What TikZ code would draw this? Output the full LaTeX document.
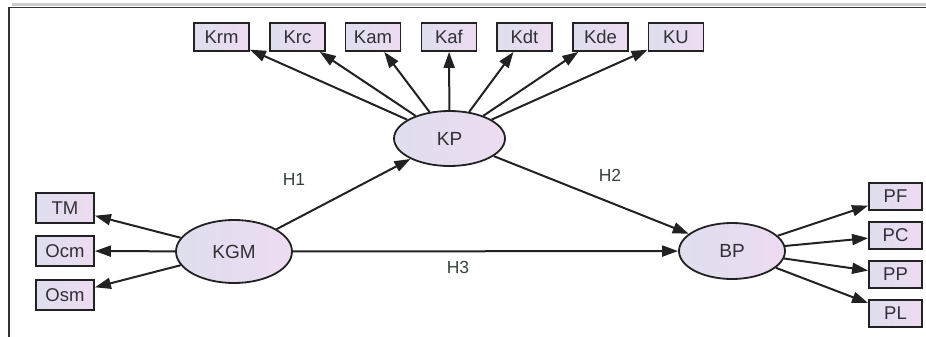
\documentclass[tikz,border=0pt]{standalone}
\usepackage{fontspec}
\setmainfont{Liberation Sans}
\usetikzlibrary{shapes.geometric,arrows.meta}
\definecolor{fillL}{HTML}{DEDFEE}
\definecolor{fillR}{HTML}{EEDBF1}
\definecolor{edge}{HTML}{222222}
\definecolor{txt}{HTML}{303036}
\definecolor{lbl}{HTML}{34443A}
\tikzset{
  obs/.style={draw=edge, line width=1.8pt, left color=fillL, right color=fillR,
    minimum width=55pt, minimum height=28pt, inner sep=0pt, text=txt,
    font=\fontsize{18.5}{18.5}\selectfont},
  lat/.style={draw=edge, line width=1.8pt, ellipse, left color=fillL, right color=fillR,
    inner sep=0pt, text=txt, font=\fontsize{19}{19}\selectfont},
  path/.style={draw=edge, line width=2pt, -{Triangle[length=16pt,width=11pt]}},
  hlab/.style={text=lbl, font=\fontsize{17.5}{17.5}\selectfont}
}
\begin{document}
\begin{tikzpicture}[x=1pt,y=-1pt]
\useasboundingbox (0,0) rectangle (926,337);
% frame
\draw[black!20, line width=3pt] (12,4.5) -- (926,4.5);
\draw[black!80, line width=1.8pt] (9,337) -- (9,7.5) -- (926,7.5);
% latent
\node[lat, minimum width=111pt, minimum height=55pt] (KP) at (449.5,138.5) {KP};
\node[lat, minimum width=116pt, minimum height=63pt] (KGM) at (234,251.5) {KGM};
\node[lat, minimum width=106pt, minimum height=56pt] (BP) at (732,251) {BP};
% top indicators
\node[obs] (Krm) at (221.5,37) {Krm};
\node[obs] (Krc) at (297.5,37) {Krc};
\node[obs] (Kam) at (373,37) {Kam};
\node[obs] (Kaf) at (449,37) {Kaf};
\node[obs] (Kdt) at (524.5,37) {Kdt};
\node[obs] (Kde) at (600.5,37) {Kde};
\node[obs] (KU) at (676,37) {KU};
% left indicators
\node[obs, minimum width=58pt, minimum height=30pt] (TM) at (65,208) {TM};
\node[obs, minimum width=58pt, minimum height=30pt] (Ocm) at (65,251) {Ocm};
\node[obs, minimum width=58pt, minimum height=30pt] (Osm) at (65,295) {Osm};
% right indicators
\node[obs, minimum width=53pt, minimum height=27pt] (PF) at (895.5,196.5) {PF};
\node[obs, minimum width=53pt, minimum height=27pt] (PC) at (895.5,235.5) {PC};
\node[obs, minimum width=53pt, minimum height=27pt] (PP) at (895.5,274.5) {PP};
\node[obs, minimum width=53pt, minimum height=27pt] (PL) at (895.5,313.5) {PL};
% arrows
\foreach \t in {Krm,Krc,Kam,Kaf,Kdt,Kde,KU} \draw[path] (KP) -- (\t);
\foreach \t in {TM,Ocm,Osm} \draw[path] (KGM) -- (\t);
\foreach \t in {PF,PC,PP,PL} \draw[path] (BP) -- (\t);
\draw[path] (KGM) -- (KP);
\draw[path] (KP) -- (BP);
\draw[path] (KGM) -- (BP);
% labels
\node[hlab] (H1) at (294,179) {H1};
\node[hlab] (H2) at (610,175) {H2};
\node[hlab] (H3) at (458,267) {H3};
\end{tikzpicture}
\end{document}
